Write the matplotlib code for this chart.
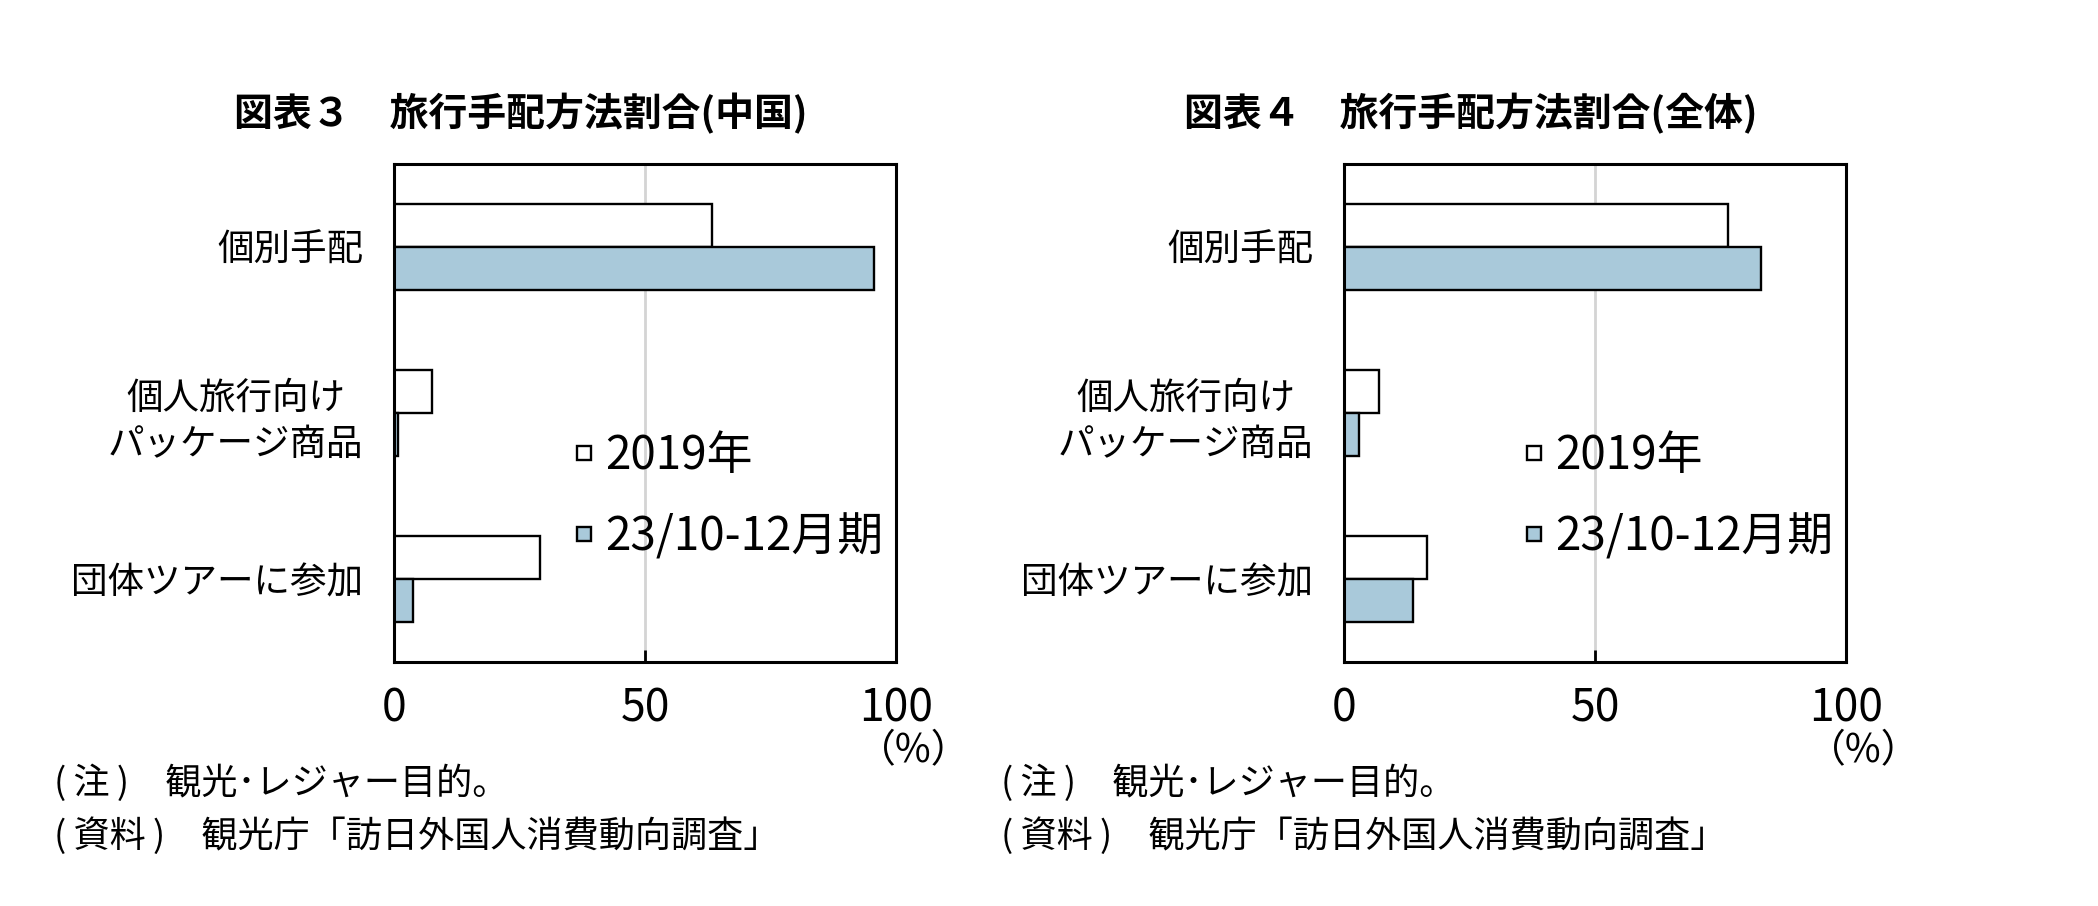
import matplotlib
matplotlib.use("Agg")
import matplotlib.pyplot as plt
import numpy as np

plt.rcParams['font.family'] = ['Noto Sans CJK JP', 'DejaVu Sans']

categories = ["個別手配", "個人旅行向け\nパッケージ商品", "団体ツアーに参加"]
series_names = ["2019年", "23/10-12月期"]
china_2019 = [63.4, 7.5, 29.1]
china_2023q4 = [95.6, 0.7, 3.8]
total_2019 = [76.4, 7.0, 16.6]
total_2023q4 = [83.0, 3.0, 13.8]
xticks = [0, 50, 100]
titles = ["図表３　旅行手配方法割合(中国)", "図表４　旅行手配方法割合(全体)"]
note1 = "(\u2009注\u2009)　観光･レジャー目的。"
note2 = "(\u2009資料\u2009)　観光庁「訪日外国人消費動向調査」"

W, H = 2098, 906
fig = plt.figure(figsize=(W / 100, H / 100), dpi=100)

blue = '#A9C9DA'
bar_h = 0.26


def make_panel(left_px, data_a, data_b, title):
    ax = fig.add_axes([left_px / W, 1 - 662 / H, 502 / W, 498 / H])
    y = np.arange(len(categories))
    ax.barh(y - bar_h / 2, data_a, height=bar_h, color='white',
            edgecolor='black', linewidth=1.7, label=series_names[0], zorder=3)
    ax.barh(y + bar_h / 2, data_b, height=bar_h, color=blue,
            edgecolor='black', linewidth=1.7, label=series_names[1], zorder=3)
    ax.set_xlim(0, 100)
    ax.set_ylim(len(categories) - 0.5, -0.5)
    ax.set_xticks(xticks)
    ax.set_yticks(y)
    ax.set_yticklabels(categories)
    for lbl in ax.get_yticklabels():
        lbl.set_multialignment('center')
        lbl.set_linespacing(1.37)
    ax.tick_params(axis='x', direction='in', length=9, width=2, pad=17,
                   labelsize=32, top=False)
    ax.tick_params(axis='y', length=0, pad=22, labelsize=26.3)
    ax.xaxis.grid(True, color='#d4d4d4', linewidth=2, zorder=0)
    ax.set_axisbelow(True)
    for s in ax.spines.values():
        s.set_linewidth(2.2)
        s.set_zorder(5)
    leg = ax.legend(loc='upper left', bbox_to_anchor=(0.365, 0.462),
                    frameon=False, fontsize=33, handlelength=0.31,
                    handleheight=0.1, handletextpad=0.3, labelspacing=0.72,
                    borderaxespad=0, borderpad=0)
    for p in leg.get_patches():
        p.set_linewidth(1.7)
    fig.text((left_px - 160) / W, 1 - 114 / H, title, fontsize=28,
             fontweight='bold', ha='left', va='center')
    fig.text((left_px + 520) / W, 1 - 751 / H, "（%）", fontsize=28,
             ha='center', va='center')
    return ax


make_panel(394, china_2019, china_2023q4, titles[0])
make_panel(1344, total_2019, total_2023q4, titles[1])

for xpx in (54, 1001):
    fig.text(xpx / W, 1 - 783 / H, note1, fontsize=26, ha='left', va='center')
    fig.text(xpx / W, 1 - 836 / H, note2, fontsize=26, ha='left', va='center')

fig.savefig("out.png", dpi=100)
